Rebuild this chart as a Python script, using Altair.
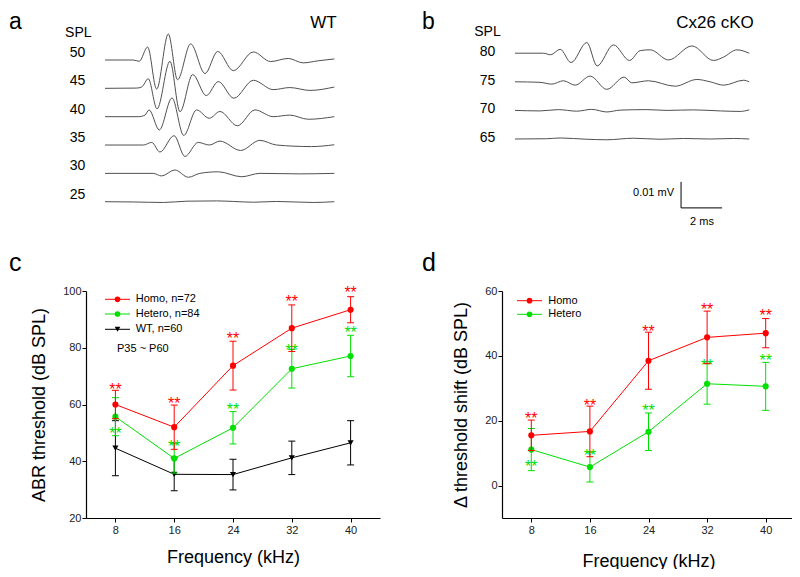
import altair as alt
import pandas as pd

FONT = "Liberation Sans"
RED = "#ff0000"
GREEN = "#00e000"
BLACK = "#000000"
TRACE = "#505050"

# ---------------- Panel a : WT ABR traces (time in ms, amplitude in uV) ----------------
a_levels = [50, 45, 40, 35, 30, 25]
a50_t = [0.0, 1.38, 1.67, 2.08, 2.52, 3.09, 3.54, 4.18, 4.88, 5.50, 6.26, 7.24, 8.08, 8.94, 9.67, 10.41, 11.19]
a50_v = [0.0, 0.0, -0.5, 5.0, -11.2, 10.0, -7.6, 6.2, -5.2, 3.3, -4.1, 3.1, -0.6, 0.6, -1.1, -0.3, 0.4]
a45_t = [0.0, 1.54, 1.79, 2.11, 2.54, 3.17, 3.66, 4.28, 4.94, 5.53, 6.29, 7.24, 8.21, 9.02, 10.0, 11.19]
a45_v = [0.0, 0.1, 0.5, 3.7, -7.9, 10.4, -9.0, 5.3, -2.8, 2.6, -3.8, 3.1, -0.5, 0.3, -0.8, 0.5]
a40_t = [0.0, 1.63, 1.95, 2.15, 2.65, 3.27, 3.84, 4.47, 5.09, 5.61, 6.46, 7.32, 8.21, 9.02, 9.92, 11.19]
a40_v = [0.0, 0.0, 0.6, 2.6, -5.1, 7.2, -7.2, 2.6, -0.6, 2.0, -3.5, 2.6, 0.0, 0.6, -1.0, 0.0]
a35_t = [0.0, 1.87, 2.28, 2.68, 3.37, 3.90, 4.55, 5.09, 5.61, 6.62, 7.56, 8.37, 10.08, 11.19]
a35_v = [0.0, 0.0, 1.0, -2.7, 3.6, -4.4, 1.0, 0.0, 1.5, -2.1, 1.8, 0.0, -0.6, 0.1]
a30_t = [0.0, 2.36, 2.76, 3.41, 4.07, 4.63, 5.53, 6.67, 7.56, 9.51, 11.19]
a30_v = [0.0, 0.0, -1.0, 1.3, -1.5, 0.0, 0.6, -1.3, 0.0, -0.2, 0.0]
a25_t = [0.0, 1.38, 2.85, 4.0, 5.45, 6.26, 7.24, 8.37, 10.16, 11.19]
a25_v = [0.0, -0.1, -0.3, 0.2, 0.3, 0.1, -0.2, 0.1, -0.3, 0.0]

# ---------------- Panel b : Cx26 cKO ABR traces ----------------
b_levels = [80, 75, 70, 65]
b80_t = [0.0, 1.38, 1.74, 2.20, 2.73, 3.50, 4.00, 4.80, 5.58, 6.10, 6.59, 7.48, 8.62, 9.67, 10.16, 10.81, 11.41]
b80_v = [0.0, 0.0, -0.6, 1.5, -3.6, 4.1, -4.9, 3.2, -2.8, 1.0, 1.3, -2.6, 2.8, -2.8, -1.5, 1.3, 0.0]
b75_t = [0.0, 1.22, 1.79, 2.36, 2.93, 3.66, 4.47, 5.32, 5.69, 6.50, 7.80, 8.86, 9.51, 10.16, 11.14, 11.41]
b75_v = [0.0, -0.2, -0.9, 0.4, -1.3, 2.2, -2.9, 1.8, -0.4, 0.4, -1.7, 0.9, 0.0, -1.3, 0.6, 0.0]
b70_t = [0.0, 1.22, 2.11, 3.01, 3.74, 4.47, 5.12, 6.42, 7.40, 8.70, 10.0, 10.97, 11.41]
b70_v = [0.0, -0.2, 0.3, -0.3, 0.4, -0.6, 0.1, 0.3, 0.0, 0.2, -0.2, -0.4, 0.2]
b65_t = [0.0, 1.54, 2.20, 3.50, 4.47, 5.77, 7.07, 8.21, 9.51, 10.65, 11.41]
b65_v = [0.0, 0.1, 0.4, -0.1, -0.3, 0.3, -0.1, 0.2, 0.0, 0.2, 0.0]
scale_ms = 2.0     # horizontal scale bar (ms)
scale_uv = 10.0    # vertical scale bar (uV) = 0.01 mV

# ---------------- Panel c : ABR thresholds ----------------
freq = [8, 16, 24, 32, 40]
c_names = ["Homo, n=72", "Hetero, n=84", "WT, n=60"]
c_homo = [60.0, 52.0, 73.7, 86.9, 93.4]
c_homo_err = [5.0, 7.8, 8.6, 8.2, 4.6]
c_homo_star = [66.6, 61.6, 84.5, 97.4, 100.7]
c_het = [55.7, 41.0, 51.8, 72.6, 77.1]
c_het_err = [6.7, 5.2, 5.7, 6.8, 7.3]
c_het_star = [51.0, 46.5, 59.3, 80.4, 86.5]
c_wt = [44.6, 35.4, 35.3, 41.2, 46.5]
c_wt_err = [9.7, 5.8, 5.4, 5.9, 7.8]

# ---------------- Panel d : threshold shift ----------------
d_names = ["Homo", "Hetero"]
d_homo = [15.5, 16.7, 38.5, 45.7, 47.0]
d_homo_err = [4.7, 7.8, 8.8, 8.1, 4.5]
d_homo_star = [21.8, 25.9, 48.5, 55.5, 53.4]
d_het = [11.1, 5.7, 16.6, 31.4, 30.6]
d_het_err = [6.5, 4.6, 5.8, 6.3, 7.4]
d_het_star = [7.1, 10.4, 24.1, 38.2, 39.5]


def trace_df(levels, ts, vs):
    rows = []
    for lvl, t, v in zip(levels, ts, vs):
        for ti, vi in zip(t, v):
            rows.append({"spl": lvl, "t": ti, "v": vi})
    return pd.DataFrame(rows)


def text(txt, x, y, size, align="center", baseline="middle", color=BLACK):
    return alt.Chart(pd.DataFrame({"s": [txt]})).mark_text(
        font=FONT, fontSize=size, align=align, baseline=baseline, color=color
    ).encode(x=alt.value(x), y=alt.value(y), text="s:N")


def legend_row(label, color, shape, x0, x1, y, tx):
    base = alt.Chart(pd.DataFrame({"s": [label]}))
    ln = base.mark_rule(color=color, strokeWidth=1).encode(
        x=alt.value(x0), x2=alt.value(x1), y=alt.value(y))
    pt = base.mark_point(shape=shape, filled=True, color=color, size=32, opacity=1).encode(
        x=alt.value((x0 + x1) / 2), y=alt.value(y))
    tx_ = base.mark_text(font=FONT, fontSize=11, align="left", baseline="middle").encode(
        x=alt.value(tx), y=alt.value(y), text="s:N")
    return [ln, pt, tx_]


def axis(orient, offset, values, title, tpad):
    return alt.Axis(
        orient=orient, offset=offset, values=values, title=title, grid=False,
        tickSize=4, tickColor=BLACK, tickWidth=1, domainColor=BLACK, domainWidth=1.2,
        labelFont=FONT, labelFontSize=11, labelColor="#222222",
        labelPadding=1 if orient == "left" else 2,
        titleFont=FONT, titleFontSize=18, titleFontWeight="normal", titleColor=BLACK,
        titlePadding=tpad,
    )


def series_layers(vals, errs, stars, color, shape, X, ysc, yax):
    df = pd.DataFrame({"f": freq, "y": vals, "e": errs})
    df["lo"] = df["y"] - df["e"]
    df["hi"] = df["y"] + df["e"]
    base = alt.Chart(df)
    out = [
        base.mark_line(color=color, strokeWidth=1).encode(
            x=X, y=alt.Y("y:Q", scale=ysc, axis=yax)),
        base.mark_rule(color=color, strokeWidth=1).encode(
            x=X, y=alt.Y("lo:Q", scale=ysc, axis=yax), y2="hi:Q"),
        base.mark_tick(orient="horizontal", color=color, size=7, thickness=1, opacity=1).encode(
            x=X, y=alt.Y("lo:Q", scale=ysc, axis=yax)),
        base.mark_tick(orient="horizontal", color=color, size=7, thickness=1, opacity=1).encode(
            x=X, y=alt.Y("hi:Q", scale=ysc, axis=yax)),
        base.mark_point(shape=shape, filled=True, color=color, size=38, opacity=1).encode(
            x=X, y=alt.Y("y:Q", scale=ysc, axis=yax)),
    ]
    if stars is not None:
        sdf = pd.DataFrame({"f": freq, "st": stars, "lab": ["**"] * len(freq)})
        out.append(alt.Chart(sdf).mark_text(
            font=FONT, fontSize=16, color=color, baseline="alphabetic", dy=9
        ).encode(x=X, y=alt.Y("st:Q", scale=ysc, axis=yax), text="lab:N"))
    return out


# ---------- panel a ----------
df_a = trace_df(a_levels, [a50_t, a45_t, a40_t, a35_t, a30_t, a25_t],
                [a50_v, a45_v, a40_v, a35_v, a30_v, a25_v])
xa = alt.Scale(domain=[0, 11.2], range=[97, 326.5], nice=False, zero=False)
ya = alt.Scale(domain=[-5, 70], range=[206.7, 11.7], nice=False, zero=False)
a_lines = alt.Chart(df_a).transform_calculate(
    yy="datum.v + (datum.spl - 25) * 2.18"
).mark_line(interpolate="monotone", color=TRACE, strokeWidth=1).encode(
    x=alt.X("t:Q", scale=xa, axis=None),
    y=alt.Y("yy:Q", scale=ya, axis=None),
    detail="spl:N",
)
a_labels = alt.Chart(pd.DataFrame({"spl": a_levels})).transform_calculate(
    yy="(datum.spl - 25) * 2.18"
).mark_text(font=FONT, fontSize=14, dy=-7).encode(
    x=alt.value(69.5), y=alt.Y("yy:Q", scale=ya, axis=None), text="spl:Q")
panel_a = alt.layer(a_lines, a_labels)

# ---------- panel b ----------
df_b = trace_df(b_levels, [b80_t, b75_t, b70_t, b65_t], [b80_v, b75_v, b70_v, b65_v])
xb = alt.Scale(domain=[0, 11.4], range=[507, 741], nice=False, zero=False)
yb = alt.Scale(domain=[-30, 40], range=[209, 27], nice=False, zero=False)
b_lines = alt.Chart(df_b).transform_calculate(
    yy="datum.v + (datum.spl - 65) * 2.2"
).mark_line(interpolate="monotone", color=TRACE, strokeWidth=1).encode(
    x=alt.X("t:Q", scale=xb, axis=None),
    y=alt.Y("yy:Q", scale=yb, axis=None),
    detail="spl:N",
)
b_labels = alt.Chart(pd.DataFrame({"spl": b_levels})).transform_calculate(
    yy="(datum.spl - 65) * 2.2"
).mark_text(font=FONT, fontSize=14, dy=-1).encode(
    x=alt.value(479.5), y=alt.Y("yy:Q", scale=yb, axis=None), text="spl:Q")
bar_df = pd.DataFrame({"t0": [8.09], "t1": [8.09 + scale_ms], "v0": [-26.5], "v1": [-26.5 + scale_uv]})
bar_v = alt.Chart(bar_df).mark_rule(color=BLACK, strokeWidth=1).encode(
    x=alt.X("t0:Q", scale=xb, axis=None), y=alt.Y("v0:Q", scale=yb, axis=None), y2="v1:Q")
bar_h = alt.Chart(bar_df).mark_rule(color=BLACK, strokeWidth=1).encode(
    x=alt.X("t0:Q", scale=xb, axis=None), x2="t1:Q", y=alt.Y("v0:Q", scale=yb, axis=None))
panel_b = alt.layer(b_lines, b_labels, bar_v, bar_h)

# ---------- panel c ----------
xc = alt.Scale(domain=[4, 44], range=[78, 372], nice=False, zero=False)
yc = alt.Scale(domain=[20, 100], range=[510, 283], nice=False, zero=False)
Xc = alt.X("f:Q", scale=xc, axis=axis("bottom", -51, freq, "Frequency (kHz)", 13))
yc_ax = axis("left", -78, [20, 40, 60, 80, 100], "ABR threshold (dB SPL)", 14)
c_layers = (
    series_layers(c_wt, c_wt_err, None, BLACK, "triangle-down", Xc, yc, yc_ax)
    + series_layers(c_het, c_het_err, c_het_star, GREEN, "circle", Xc, yc, yc_ax)
    + series_layers(c_homo, c_homo_err, c_homo_star, RED, "circle", Xc, yc, yc_ax)
)
panel_c = alt.layer(*c_layers)

# ---------- panel d ----------
xd = alt.Scale(domain=[4, 44], range=[494, 787], nice=False, zero=False)
yd = alt.Scale(domain=[-10, 60], range=[510, 283], nice=False, zero=False)
Xd = alt.X("f:Q", scale=xd, axis=axis("bottom", -51, freq, "Frequency (kHz)", 17))
yd_ax = axis("left", -494, [0, 20, 40, 60], "\u0394 threshold shift (dB SPL)", 14)
d_layers = (
    series_layers(d_het, d_het_err, d_het_star, GREEN, "circle", Xd, yd, yd_ax)
    + series_layers(d_homo, d_homo_err, d_homo_star, RED, "circle", Xd, yd, yd_ax)
)
panel_d = alt.layer(*d_layers)

# ---------- annotations ----------
annot = [
    text("a", 1, 3, 23, align="left", baseline="top"),
    text("b", 414, 3, 23, align="left", baseline="top"),
    text("c", 1, 263, 25, align="left", baseline="alphabetic"),
    text("d", 414, 263, 25, align="left", baseline="alphabetic"),
    text("SPL", 70.3, 25.3, 14),
    text("WT", 315.5, 15, 17),
    text("SPL", 479.5, 23.7, 14),
    text("Cx26 cKO", 707, 15, 17),
    text("0.01 mV", 666, 185, 11, align="right"),
    text("2 ms", 694, 214, 11),
    text("P35 ~ P60", 109, 341, 11, align="left"),
]
for name, col, shp, yy in zip(c_names, [RED, GREEN, BLACK],
                              ["circle", "circle", "triangle-down"], [291.3, 306, 321.3]):
    annot += legend_row(name, col, shp, 97, 122, yy, 127.7)
for name, col, yy in zip(d_names, [RED, GREEN], [292.7, 306.3]):
    annot += legend_row(name, col, "circle", 509, 534, yy, 540.3)

chart = alt.layer(panel_a, panel_b, panel_c, panel_d, *annot).resolve_scale(
    x="independent", y="independent"
).properties(
    width=784, height=561, padding=0,
    autosize=alt.AutoSizeParams(type="none"),
).configure_view(stroke=None)

chart.save("out.html", embed_options={"renderer": "svg", "actions": False})
